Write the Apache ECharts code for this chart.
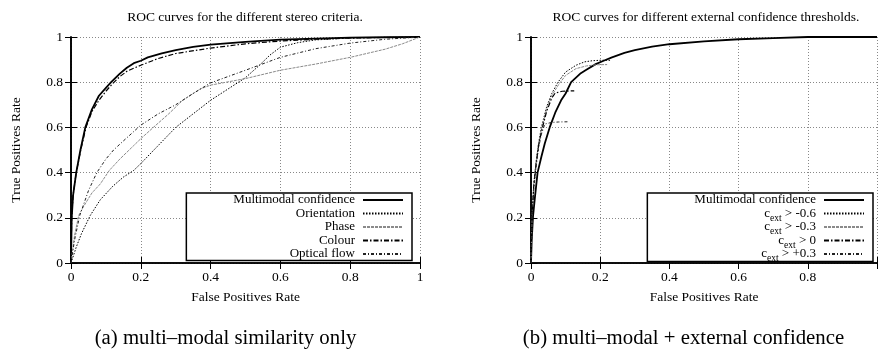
<!doctype html>
<html>
<head>
<meta charset="utf-8">
<title>ROC curves</title>
<script src="https://cdn.jsdelivr.net/npm/echarts@6/dist/echarts.min.js"></script>
<style>
html,body{margin:0;padding:0;overflow:hidden;background:#fff;}
</style>
</head>
<body>
<div id="chart" style="width:880px;height:351px;"></div>
<script type="text/javascript">
// tick labels shared by both plots
var tickLabels = ['0', '0.2', '0.4', '0.6', '0.8', '1'];

// (a) multi-modal similarity only
var mmAx = [0, 0.002, 0.006, 0.015, 0.027, 0.041, 0.06, 0.08, 0.1, 0.115, 0.14, 0.16, 0.18, 0.2, 0.22, 0.26, 0.3, 0.35, 0.4, 0.5, 0.6, 0.7, 0.8, 0.9, 1];
var mmAy = [0, 0.2, 0.3, 0.4, 0.5, 0.6, 0.68, 0.74, 0.775, 0.8, 0.838, 0.864, 0.884, 0.895, 0.91, 0.928, 0.942, 0.956, 0.966, 0.978, 0.988, 0.993, 0.997, 0.999, 1];
var oriX = [0, 0.015, 0.03, 0.055, 0.084, 0.12, 0.15, 0.18, 0.2, 0.25, 0.3, 0.35, 0.4, 0.45, 0.5, 0.54, 0.57, 0.6, 0.65, 0.7, 0.8, 0.9, 1];
var oriY = [0, 0.07, 0.13, 0.21, 0.28, 0.34, 0.38, 0.41, 0.44, 0.52, 0.6, 0.66, 0.72, 0.77, 0.82, 0.875, 0.92, 0.955, 0.975, 0.987, 0.996, 0.999, 1];
var phaX = [0, 0.01, 0.022, 0.036, 0.06, 0.084, 0.11, 0.14, 0.18, 0.2, 0.236, 0.28, 0.32, 0.37, 0.4, 0.5, 0.6, 0.7, 0.8, 0.9, 0.95, 1];
var phaY = [0, 0.12, 0.21, 0.25, 0.31, 0.35, 0.41, 0.46, 0.52, 0.55, 0.6, 0.66, 0.72, 0.77, 0.787, 0.816, 0.853, 0.88, 0.91, 0.946, 0.97, 1];
var colX = [0, 0.002, 0.006, 0.015, 0.028, 0.043, 0.06, 0.08, 0.1, 0.12, 0.14, 0.16, 0.18, 0.2, 0.25, 0.3, 0.4, 0.5, 0.6, 0.7, 0.8, 0.9, 1];
var colY = [0, 0.2, 0.3, 0.4, 0.5, 0.6, 0.67, 0.72, 0.76, 0.795, 0.825, 0.848, 0.862, 0.875, 0.905, 0.927, 0.951, 0.97, 0.982, 0.99, 0.995, 0.998, 1];
var optX = [0, 0.01, 0.025, 0.05, 0.074, 0.1, 0.122, 0.15, 0.2, 0.25, 0.3, 0.35, 0.4, 0.5, 0.6, 0.7, 0.8, 0.9, 1];
var optY = [0, 0.1, 0.21, 0.32, 0.4, 0.46, 0.5, 0.54, 0.61, 0.66, 0.7, 0.75, 0.797, 0.853, 0.91, 0.948, 0.973, 0.99, 1];

// (b) multi-modal + external confidence
var mmBx = [0, 0.002, 0.006, 0.012, 0.019, 0.03, 0.04, 0.054, 0.07, 0.087, 0.1, 0.116, 0.13, 0.144, 0.16, 0.187, 0.21, 0.234, 0.27, 0.3, 0.35, 0.4, 0.5, 0.6, 0.7, 0.8, 1];
var mmBy = [0, 0.1, 0.21, 0.3, 0.4, 0.47, 0.53, 0.6, 0.665, 0.72, 0.75, 0.8, 0.82, 0.84, 0.855, 0.88, 0.895, 0.91, 0.93, 0.942, 0.957, 0.968, 0.981, 0.99, 0.995, 1, 1];
var m06X = [0, 0.003, 0.008, 0.015, 0.022, 0.03, 0.045, 0.06, 0.078, 0.1, 0.13, 0.155, 0.177, 0.2, 0.23];
var m06Y = [0, 0.2, 0.35, 0.45, 0.53, 0.6, 0.69, 0.75, 0.8, 0.845, 0.875, 0.89, 0.895, 0.897, 0.897];
var m03X = [0, 0.003, 0.008, 0.015, 0.022, 0.03, 0.045, 0.06, 0.08, 0.1, 0.13, 0.16, 0.19, 0.22];
var m03Y = [0, 0.2, 0.35, 0.45, 0.53, 0.59, 0.68, 0.74, 0.79, 0.83, 0.86, 0.872, 0.877, 0.878];
var p00X = [0, 0.003, 0.008, 0.015, 0.022, 0.03, 0.045, 0.06, 0.07, 0.09, 0.125];
var p00Y = [0, 0.2, 0.34, 0.44, 0.52, 0.58, 0.67, 0.73, 0.752, 0.76, 0.762];
var p03X = [0, 0.003, 0.008, 0.015, 0.022, 0.03, 0.04, 0.06, 0.08, 0.11];
var p03Y = [0, 0.2, 0.33, 0.43, 0.51, 0.57, 0.615, 0.622, 0.624, 0.625];

var serif = 'Liberation Serif';
var fs = 13.5;

function zip(xs, ys) {
	var out = [];
	for (var i = 0; i < xs.length; i++) out.push([xs[i], ys[i]]);
	return out;
}

function mainX(g) {
	return {
		type: 'value', gridIndex: g, min: 0, max: 1, interval: 0.2,
		name: 'False Positives Rate', nameLocation: 'middle', nameGap: 27,
		nameTextStyle: { fontFamily: serif, fontSize: fs, color: '#000' },
		axisLine: { lineStyle: { color: '#000', width: 1.6 } },
		axisTick: { inside: true, length: 6, lineStyle: { color: '#000' } },
		axisLabel: { margin: 7, fontFamily: serif, fontSize: fs, color: '#000',
			formatter: function (v) {
				// the last label of the right plot falls off the page
				if (g === 1 && v === 1) return '';
				return tickLabels[Math.round(v * 5)];
			} },
		splitLine: { show: true, lineStyle: { color: '#888', type: [1, 2], width: 1 } }
	};
}
function mainY(g) {
	return {
		type: 'value', gridIndex: g, min: 0, max: 1, interval: 0.2,
		name: 'True Positives Rate', nameLocation: 'middle', nameGap: 48,
		nameTextStyle: { fontFamily: serif, fontSize: fs, color: '#000' },
		axisLine: { lineStyle: { color: '#000', width: 1.6 } },
		axisTick: { inside: true, length: 6, lineStyle: { color: '#000' } },
		axisLabel: { margin: 8, fontFamily: serif, fontSize: fs, color: '#000',
			formatter: function (v) { return tickLabels[Math.round(v * 5)]; } },
		splitLine: { show: true, lineStyle: { color: '#888', type: [1, 2], width: 1 } }
	};
}
function mirror(g, pos) {
	return {
		type: 'value', gridIndex: g, position: pos, min: 0, max: 1, interval: 0.2,
		axisLine: { lineStyle: { color: '#000', width: 1.6 } },
		axisTick: { inside: true, length: 6, lineStyle: { color: '#000' } },
		axisLabel: { show: false }, splitLine: { show: false }
	};
}

var styles = {
	solid: { color: '#000', width: 1.8, type: 'solid' },
	dotted: { color: '#000', width: 1, type: [1.5, 1.5] },
	gray: { color: '#8a8a8a', width: 1, type: [3, 1] },
	dashdot: { color: '#000', width: 1.2, type: [5, 2, 1.5, 2] },
	fine: { color: '#222', width: 1, type: [3, 2, 1, 2] }
};

function line(name, g, xs, ys, st) {
	return {
		name: name, type: 'line', xAxisIndex: g * 2, yAxisIndex: g * 2,
		data: zip(xs, ys), symbol: 'none', lineStyle: styles[st],
		itemStyle: { color: styles[st].color }, animation: false, silent: true
	};
}

// right legend: every row carries a subscript slot so all rows get the same height
function legendTextA(name) {
	return '{e|' + name + '}';
}
function legendTextB(name) {
	if (name.indexOf('c_ext') === 0) {
		return '{n|c}{s|ext}{e|' + name.slice(5) + '}';
	}
	return '{e|' + name.replace(/ $/, '') + '}{s|\u200b}';
}
var lfs = 13;
var legendRich = {
	e: { fontFamily: serif, fontSize: lfs, lineHeight: 13, color: '#000', padding: [0, 3, 0, 0] },
	n: { fontFamily: serif, fontSize: lfs, lineHeight: 13, color: '#000' },
	s: { fontFamily: serif, fontSize: 9.5, lineHeight: 13, padding: [0, 0, -3, 0], verticalAlign: 'bottom', color: '#000' }
};
function legend(names, right, padLeft, fmt, gap, padBottom) {
	return {
		data: names, orient: 'vertical', align: 'right', right: right, top: 193,
		itemWidth: 40, itemHeight: 8, itemGap: gap,
		padding: [0.5, 8, padBottom, padLeft], borderColor: '#000', borderWidth: 1.5,
		backgroundColor: '#fff', selectedMode: false,
		itemStyle: { color: 'rgba(0,0,0,0)', borderWidth: 0, opacity: 0 },
		formatter: fmt,
		textStyle: { rich: legendRich }
	};
}

var namesA = ['Multimodal confidence', 'Orientation', 'Phase', 'Colour', 'Optical flow'];
var namesB = ['Multimodal confidence ', 'c_ext > -0.6', 'c_ext > -0.3', 'c_ext > 0', 'c_ext > +0.3'];

function caption(x, yCenter, text, size) {
	return {
		text: text, left: x, top: yCenter - size / 2, textAlign: 'center', padding: 0,
		textStyle: { fontFamily: serif, fontSize: size, fontWeight: 'normal', color: '#000' }
	};
}
// the sub-figure captions are drawn at 16px and scaled up
function bigCaption(x, y, text) {
	return {
		type: 'text', x: x, y: y, scaleX: 1.3, scaleY: 1.3,
		style: { text: text, fontFamily: serif, fontSize: 16, fill: '#000', align: 'center', verticalAlign: 'middle' }
	};
}

var mychart = echarts.init(document.getElementById('chart'));
mychart.setOption({
	animation: false,
	title: [
		caption(245, 17, 'ROC curves for the different stereo criteria.', fs),
		caption(706, 17, 'ROC curves for different external confidence thresholds.', fs)
	],
	graphic: [
		bigCaption(225.5, 339, '(a) multi–modal similarity only'),
		bigCaption(683.5, 339, '(b) multi–modal + external confidence')
	],
	grid: [
		{ left: 71, top: 37, width: 349, height: 226 },
		{ left: 531, top: 37, width: 350, height: 226 }
	],
	xAxis: [mainX(0), mirror(0, 'top'), mainX(1), mirror(1, 'top')],
	yAxis: [mainY(0), mirror(0, 'right'), mainY(1), mirror(1, 'right')],
	legend: [
		legend(namesA, 880 - 412, 47, legendTextA, 0.5, 0),
		legend(namesB, 880 - 873, 47, legendTextB, -2.5, -2)
	],
	series: [
		line(namesA[0], 0, mmAx, mmAy, 'solid'),
		line(namesA[1], 0, oriX, oriY, 'dotted'),
		line(namesA[2], 0, phaX, phaY, 'gray'),
		line(namesA[3], 0, colX, colY, 'dashdot'),
		line(namesA[4], 0, optX, optY, 'fine'),
		line(namesB[0], 1, mmBx, mmBy, 'solid'),
		line(namesB[1], 1, m06X, m06Y, 'dotted'),
		line(namesB[2], 1, m03X, m03Y, 'gray'),
		line(namesB[3], 1, p00X, p00Y, 'dashdot'),
		line(namesB[4], 1, p03X, p03Y, 'fine')
	]
});
</script>
</body>
</html>
